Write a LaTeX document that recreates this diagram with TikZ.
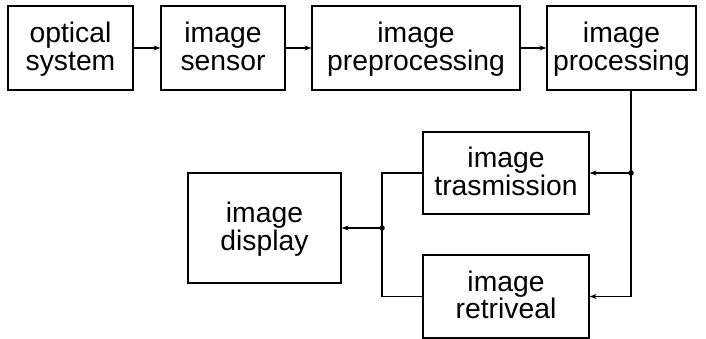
\documentclass[tikz,border=0pt]{standalone}
\usepackage{fontspec}
\setmainfont{Liberation Sans}
\usetikzlibrary{arrows.meta}
\begin{document}
\begin{tikzpicture}[x=1pt,y=-1pt,
  blk/.style={draw,line width=1.2pt,align=center,inner sep=0pt,
    font=\fontsize{28.3}{27.5}\selectfont,
    execute at begin node=\rule{0pt}{52.5pt},
    execute at end node=\rule[-8.25pt]{0pt}{8.25pt}},
  conn/.style={line width=1.2pt},
  arr/.style={conn,-{Stealth[length=7pt,width=5pt]}},
  jdot/.style={circle,fill,inner sep=0pt,minimum size=5.5pt}]
\useasboundingbox[fill=white] (0,0) rectangle (706,339);
\node[blk,minimum width=125pt,minimum height=84pt] (b1) at (70.5,48) {optical\\system};
\node[blk,minimum width=124pt,minimum height=84pt] (b2) at (223,48) {image\\sensor};
\node[blk,minimum width=208pt,minimum height=84pt] (b3) at (416,48) {image\\preprocessing};
\node[blk,minimum width=149pt,minimum height=84pt] (b4) at (621.5,48) {image\\processing};
\node[blk,minimum width=166pt,minimum height=82pt] (b5) at (506,173) {image\\trasmission};
\node[blk,minimum width=166pt,minimum height=83pt] (b6) at (506,296.5) {image\\retriveal};
\node[blk,minimum width=153pt,minimum height=110pt] (b7) at (264.5,228) {image\\display};
\coordinate (jr) at (631,173);
\coordinate (jl) at (382,228);
\draw[arr] (b1) -- (b2);
\draw[arr] (b2) -- (b3);
\draw[arr] (b3) -- (b4);
\draw[conn] (b4.south -| jr) -- (jr);
\draw[arr] (jr) -- (b5.east);
\draw[arr] (jr) |- (b6.east);
\draw[conn] (b5.west) -| (jl);
\draw[conn] (b6.west) -| (jl);
\draw[arr] (jl) -- (b7.east);
\node[jdot] (dr) at (jr) {};
\node[jdot] (dl) at (jl) {};
\end{tikzpicture}
\end{document}
